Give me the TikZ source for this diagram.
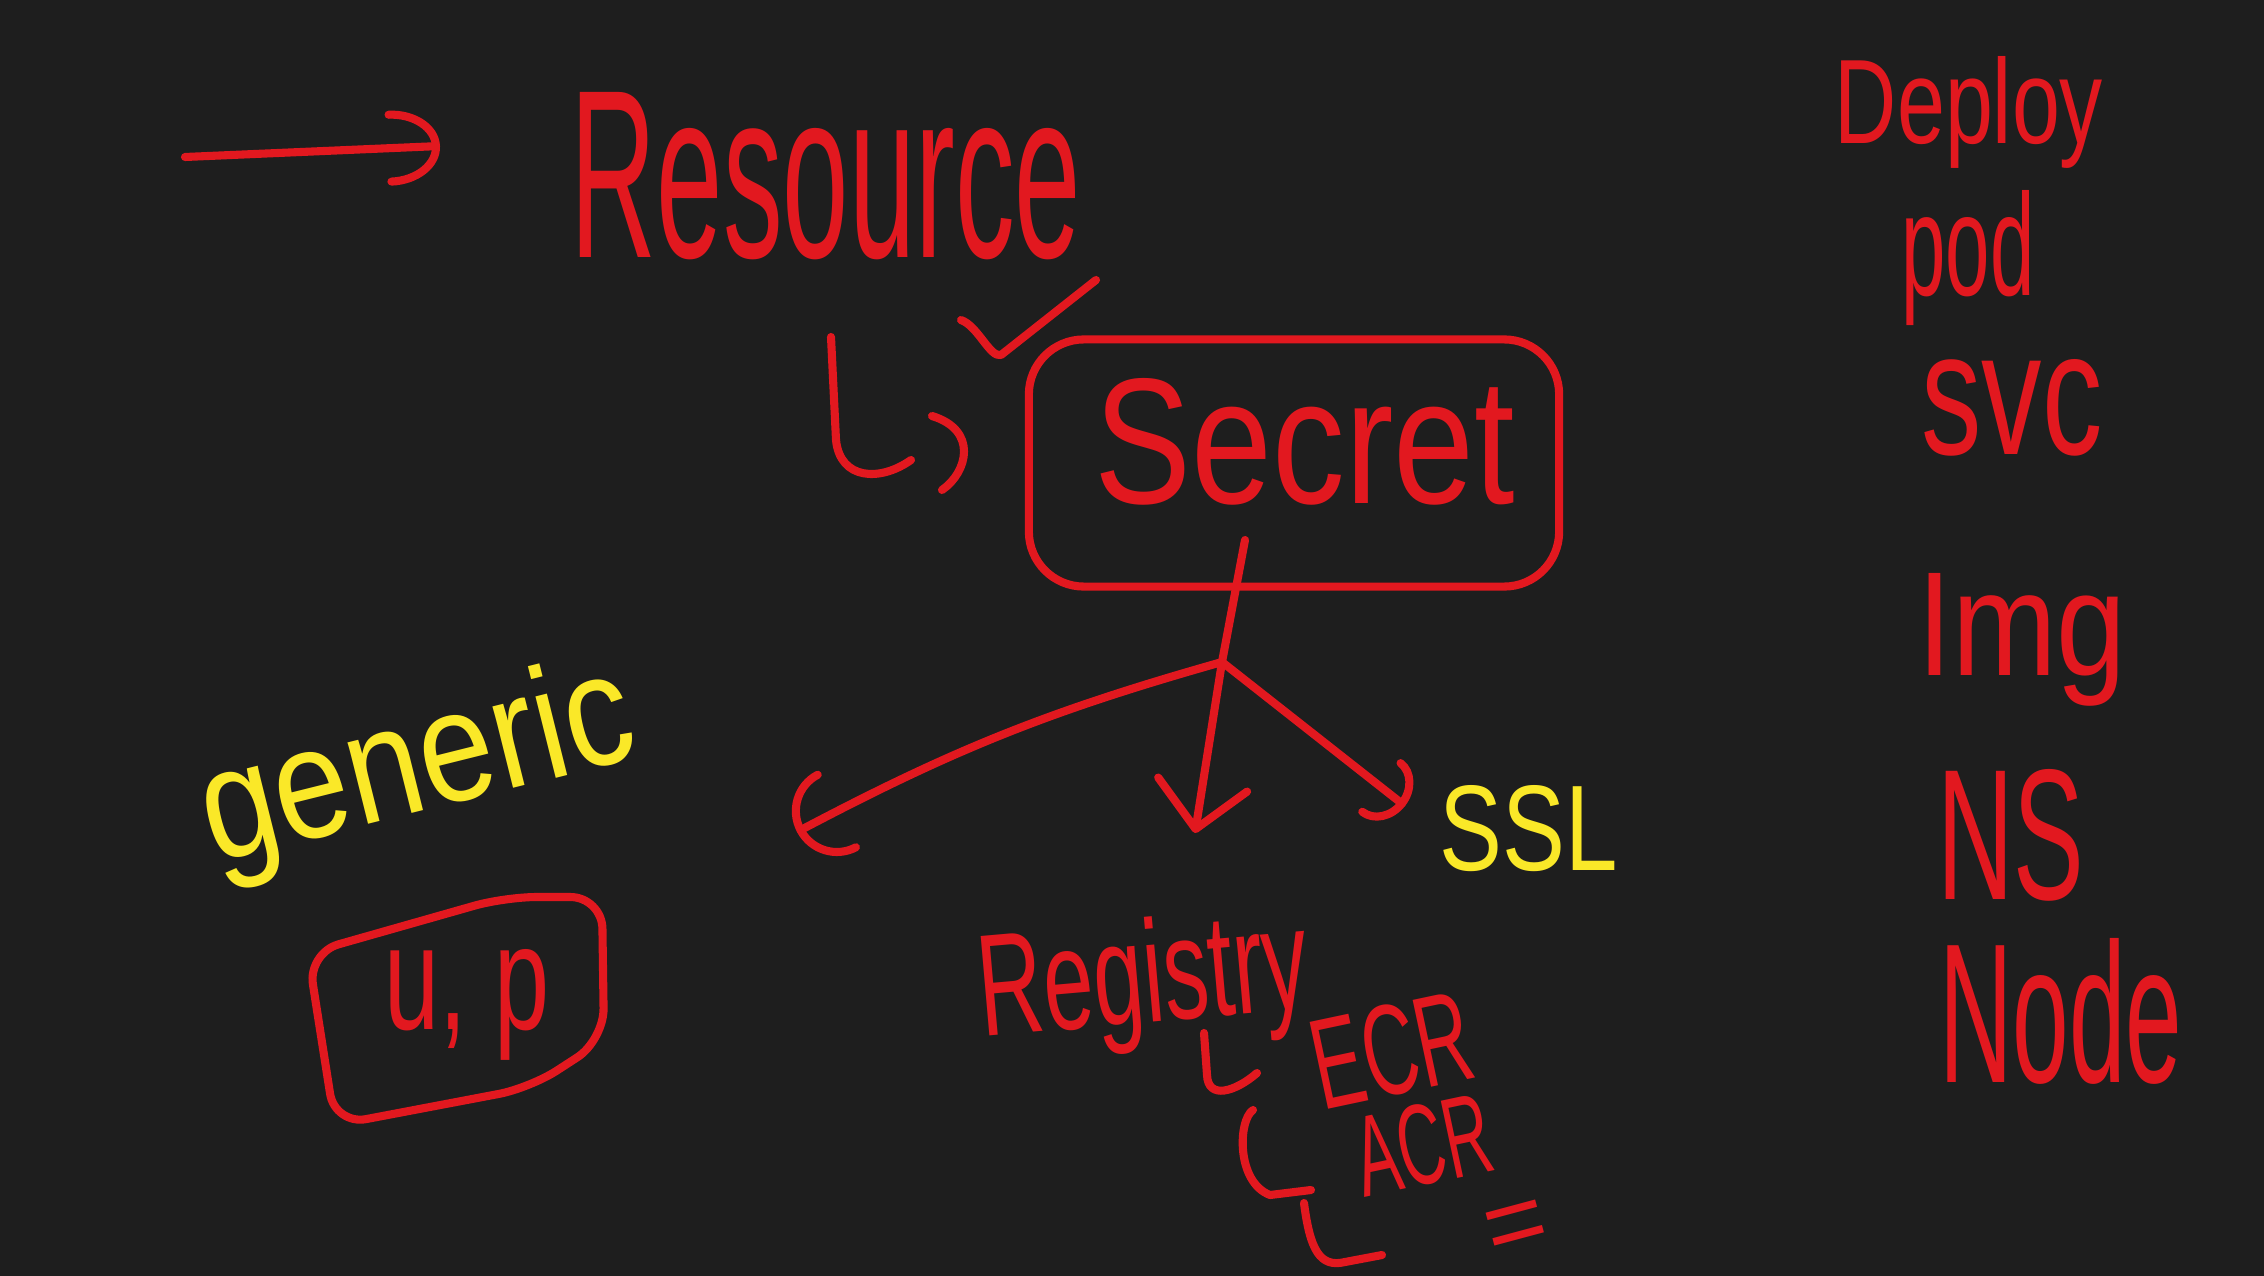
\documentclass[tikz,border=0pt]{standalone}
\usepackage{fontspec}
\setmainfont{Liberation Sans}
\usepackage{graphicx}
\usepackage{xcolor}
\usepackage{tikz}
\usetikzlibrary{calc,arrows.meta}

\definecolor{boardbg}{RGB}{30,30,30}
\definecolor{penred}{RGB}{226,24,31}
\definecolor{penyellow}{RGB}{250,232,40}

\tikzset{
  pen/.style={draw=penred, line width=2.3pt, line cap=round, line join=round},
  redtxt/.style={text=penred, inner sep=0pt},
  yeltxt/.style={text=penyellow, inner sep=0pt},
}

\begin{document}
\begin{tikzpicture}[x=0.01cm,y=-0.01cm]
			% Nền bảng
			\path[use as bounding box, fill=boardbg] (0,0) rectangle (2264,1276);
			
			% Mũi tên và tiêu đề
			\coordinate (arrtail) at (185,157);
			\coordinate (arrtip) at (440,146);
			\draw[pen, -{Arc Barb[length=0.5cm,width=0.75cm,round]}] (arrtail) -- (arrtip);
			\node[redtxt] (resource) at (826,176) {\resizebox{5.1cm}{1.65cm}{Resource}};
			
			% Dấu tích và ký hiệu L,
			\draw[pen] (961,320) .. controls (978,326) and (990,358) .. (1001,355) -- (1096,280);
			\draw[pen] (831,337) -- (836,440) .. controls (840,480) and (880,482) .. (911,460);
			\draw[pen] (932,416) .. controls (978,430) and (968,472) .. (942,490);
			
			% Khung Secret
			\node[pen, rounded corners=0.55cm, minimum width=5.3cm, minimum height=2.47cm] (secret) at (1294,463) {};
			\node[redtxt] (secrettxt) at (1305,442) {\resizebox{4.2cm}{1.25cm}{Secret}};
			
			% Nhánh
			\coordinate (stemtop) at (1245,540);
			\coordinate (hub) at (1222,662);
			\coordinate (tipC) at (797,832);
			\coordinate (tipV) at (1195,833);
			\coordinate (tipU) at (1405,806);
			\draw[pen] (stemtop) -- (hub);
			\draw[pen, -{Arc Barb[length=0.45cm,width=0.9cm,round]}] (hub) to[bend right=6] (tipC);
			\draw[pen, -{Straight Barb[length=0.45cm,width=0.9cm,round]}] (hub) -- (tipV);
			\draw[pen, -{Arc Barb[length=0.3cm,width=0.7cm,round]}] (hub) -- (tipU);
			
			% generic và hộp u, p
			\node[yeltxt, rotate=14] (generic) at (418,770) {\resizebox{4.4cm}{1.15cm}{generic}};
			\draw[pen, rounded corners=9pt] (308,953) -- (505,897) -- (602,897) -- (604,1040) -- (530,1088) -- (335,1125) -- cycle;
			\node[redtxt] (up) at (467,1005) {\resizebox{1.65cm}{0.8cm}{u, p}};
			\node[yeltxt] (ssl) at (1529,829) {\resizebox{1.78cm}{0.85cm}{SSL}};
			
			% Registry
			\node[redtxt, rotate=5] (registry) at (1144,985) {\resizebox{3.3cm}{1.05cm}{Registry}};
			\draw[pen] (1204,1033) -- (1207,1075) .. controls (1208,1100) and (1235,1092) .. (1257,1073);
			\node[redtxt, rotate=12] (ecr) at (1392,1050) {\resizebox{1.6cm}{0.9cm}{ECR}};
			\draw[pen] (1253,1110) .. controls (1238,1120) and (1236,1182) .. (1270,1195) -- (1311,1190);
			\node[redtxt, rotate=12] (acr) at (1423,1145) {\resizebox{1.36cm}{0.8cm}{ACR}};
			\draw[pen] (1304,1203) .. controls (1310,1250) and (1320,1268) .. (1345,1262) -- (1382,1255);
			\node[redtxt, rotate=15, font=\fontsize{30}{30}\selectfont] (eqsign) at (1518,1232) {=};
			
			% Danh sách bên phải
			\foreach \nm/\px/\py/\w/\h in {Deploy/1969/112/2.68cm/0.87cm, pod/1968/258/1.33cm/1.05cm,
				svc/2012/408/1.81cm/0.95cm, Img/2022/640/2.09cm/1.02cm, NS/2011/835/1.47cm/1.3cm, Node/2061/1011/2.43cm/1.44cm} {
				\node[redtxt] (\nm) at (\px,\py) {\resizebox{\w}{\h}{\nm}};
			}
		\end{tikzpicture}
\end{document}
